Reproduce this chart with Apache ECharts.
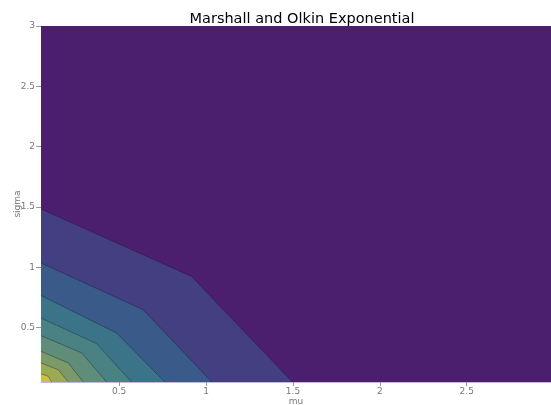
<!DOCTYPE html>
<html>
<head>
<meta charset="utf-8">
<script src="https://cdn.jsdelivr.net/npm/echarts@6/dist/echarts.min.js"></script>
<style>html,body{margin:0;padding:0;background:#fff}#c{width:551px;height:405px}</style>
</head>
<body>
<div id="c"></div>
<script>
// Contour boundaries: [mu, sigma] vertices, from the left axis to the bottom axis
const level0 = [[0.05, 3.0], [2.985, 3.0]];
const level1 = [[0.05, 1.483], [0.916, 0.925], [1.497, 0.05]];
const level2 = [[0.05, 1.036], [0.638, 0.649], [1.033, 0.05]];
const level3 = [[0.05, 0.767], [0.485, 0.456], [0.763, 0.05]];
const level4 = [[0.05, 0.580], [0.370, 0.368], [0.571, 0.05]];
const level5 = [[0.05, 0.434], [0.284, 0.291], [0.428, 0.05]];
const level6 = [[0.05, 0.304], [0.207, 0.208], [0.293, 0.05]];
const level7 = [[0.05, 0.208], [0.149, 0.152], [0.207, 0.05]];
const level8 = [[0.05, 0.117], [0.092, 0.097], [0.111, 0.05]];
const levels = [level0, level1, level2, level3, level4, level5, level6, level7, level8];
const levelColors = ['#4b1f6e', '#433f80', '#3a5a8a', '#3b7388', '#4a8283', '#5f8d7a', '#7b9a68', '#9caa52', '#c9c43c'];
const xTicks = [0.5, 1, 1.5, 2, 2.5];
const yTicks = [0.5, 1, 1.5, 2, 2.5, 3];

const chart = echarts.init(document.getElementById('c'), null, {renderer: 'canvas'});
const series = levels.map((pts, i) => ({
  type: 'line',
  data: pts,
  symbol: 'none',
  silent: true,
  animation: false,
  z: 2 + i,
  lineStyle: {color: i === 0 ? 'rgba(0,0,0,0)' : 'rgba(20,20,40,0.45)', width: 0.8},
  areaStyle: {color: levelColors[i], opacity: 1, origin: 'start'}
}));
const axisText = {color: '#777', fontSize: 9, fontFamily: 'DejaVu Sans'};
chart.setOption({
  animation: false,
  title: {
    text: 'Marshall and Olkin Exponential',
    left: 297, top: 7, textAlign: 'center',
    textStyle: {fontFamily: 'DejaVu Sans', fontSize: 14.5, fontWeight: 'normal', color: '#000'}
  },
  grid: {left: 41, right: 0, top: 26, bottom: 23, containLabel: false, outerBoundsMode: 'none'},
  xAxis: {
    type: 'value', min: 0.05, max: 2.985,
    name: 'mu', nameLocation: 'middle', nameGap: 15, nameMoveOverlap: false,
    nameTextStyle: {color: '#777', fontSize: 9, fontFamily: 'DejaVu Sans'},
    axisLine: {show: true, lineStyle: {color: '#c4b6dc', width: 1}},
    splitLine: {show: false},
    axisTick: {show: true, length: 4, lineStyle: {color: '#999'}, customValues: xTicks},
    axisLabel: Object.assign({customValues: xTicks, margin: 5}, axisText)
  },
  yAxis: {
    type: 'value', min: 0.05, max: 3,
    name: 'sigma', nameLocation: 'middle', nameGap: 19, nameRotate: 90, nameMoveOverlap: false,
    nameTextStyle: {color: '#777', fontSize: 9, fontFamily: 'DejaVu Sans'},
    axisLine: {show: true, lineStyle: {color: '#c4b6dc', width: 1}},
    splitLine: {show: false},
    axisTick: {show: true, length: 5, lineStyle: {color: '#999'}, customValues: yTicks},
    axisLabel: Object.assign({customValues: yTicks, margin: 6}, axisText)
  },
  series: series
});
</script>
</body>
</html>
